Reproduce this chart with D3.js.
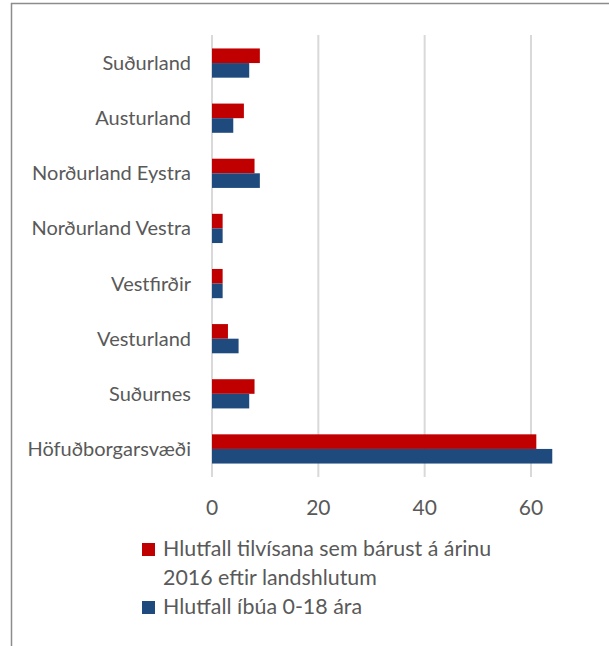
<!DOCTYPE html>
<html lang="is">
	<head>
		<meta charset="utf-8">
		<title>Hlutfall eftir landshlutum</title>
		<script src="https://cdn.jsdelivr.net/npm/d3@7"></script>
		<style>
			* { margin: 0; padding: 0; }
			body { background: white; font-family: Lato, "Open Sans", sans-serif; }
			svg { display: block; }
			.grid line { stroke: #d9d9d9; stroke-width: 2; }
			.label { fill: #595959; font-size: 20px; }
			.tick-label { fill: #595959; font-size: 21px; }
			.legend text { fill: #595959; font-size: 21.4px; }
		</style>
	</head>
	<body>
		<div id="chart"></div>
		<script>
			var w = 609, h = 646;

			// regions, top to bottom
			var regions = ["Suðurland", "Austurland", "Norðurland Eystra", "Norðurland Vestra",
				"Vestfirðir", "Vesturland", "Suðurnes", "Höfuðborgarsvæði"];
			// share of referrals received in 2016 (%)
			var referrals = [9, 6, 8, 2, 2, 3, 8, 61];
			// share of residents 0-18 (%)
			var residents = [7, 4, 9, 2, 2, 5, 7, 64];
			var xTicks = [0, 20, 40, 60];
			var colors = ["#c00000", "#1f4a7e"];
			var legendLines = [["Hlutfall tilvísana sem bárust á árinu", "2016 eftir landshlutum"], ["Hlutfall íbúa 0-18 ára"]];

			var svg = d3.select("#chart").append("svg")
				.attr("width", w)
				.attr("height", h);

			// outer frame (right and bottom edges fall outside the picture)
			svg.append("rect")
				.attr("x", 11.5).attr("y", 3.5)
				.attr("width", 620).attr("height", 660)
				.attr("fill", "none")
				.attr("stroke", "#8c8c8c")
				.attr("stroke-width", 1.5);

			var x = d3.scaleLinear().domain([0, 60]).range([212, 531]);
			var y = d3.scaleBand().domain(regions).range([35.5, 476.5]).paddingInner(0.47).paddingOuter(0.235);
			var sub = d3.scaleBand().domain([0, 1]).range([0, y.bandwidth()]);

			// gridlines
			svg.append("g").attr("class", "grid")
				.selectAll("line").data(xTicks).enter().append("line")
				.attr("x1", function(d) { return x(d); })
				.attr("x2", function(d) { return x(d); })
				.attr("y1", 35).attr("y2", 477);

			// tick labels
			svg.append("g").selectAll("text").data(xTicks).enter().append("text")
				.attr("class", "tick-label")
				.attr("x", function(d) { return x(d); })
				.attr("y", 515)
				.attr("text-anchor", "middle")
				.text(function(d) { return d; });

			// category labels
			svg.append("g").selectAll("text").data(regions).enter().append("text")
				.attr("class", "label")
				.attr("x", 191)
				.attr("y", function(d) { return y(d) + y.bandwidth() / 2 + 7; })
				.attr("text-anchor", "end")
				.text(function(d) { return d; });

			// bars
			[referrals, residents].forEach(function(vals, s) {
				svg.append("g").selectAll("rect").data(vals).enter().append("rect")
					.attr("x", x(0))
					.attr("y", function(d, i) { return y(regions[i]) + sub(s); })
					.attr("width", function(d) { return x(d) - x(0); })
					.attr("height", sub.bandwidth())
					.attr("fill", colors[s]);
			});

			// legend
			var legend = svg.append("g").attr("class", "legend");
			var rowY = [556, 614];
			legendLines.forEach(function(lines, s) {
				legend.append("rect")
					.attr("x", 142).attr("y", rowY[s] - 13)
					.attr("width", 13).attr("height", 13)
					.attr("fill", colors[s]);
				var t = legend.append("text").attr("x", 163).attr("y", rowY[s]);
				lines.forEach(function(line, i) {
					t.append("tspan").attr("x", 163).attr("dy", i ? 29 : 0).text(line);
				});
			});
		</script>
	</body>
</html>
